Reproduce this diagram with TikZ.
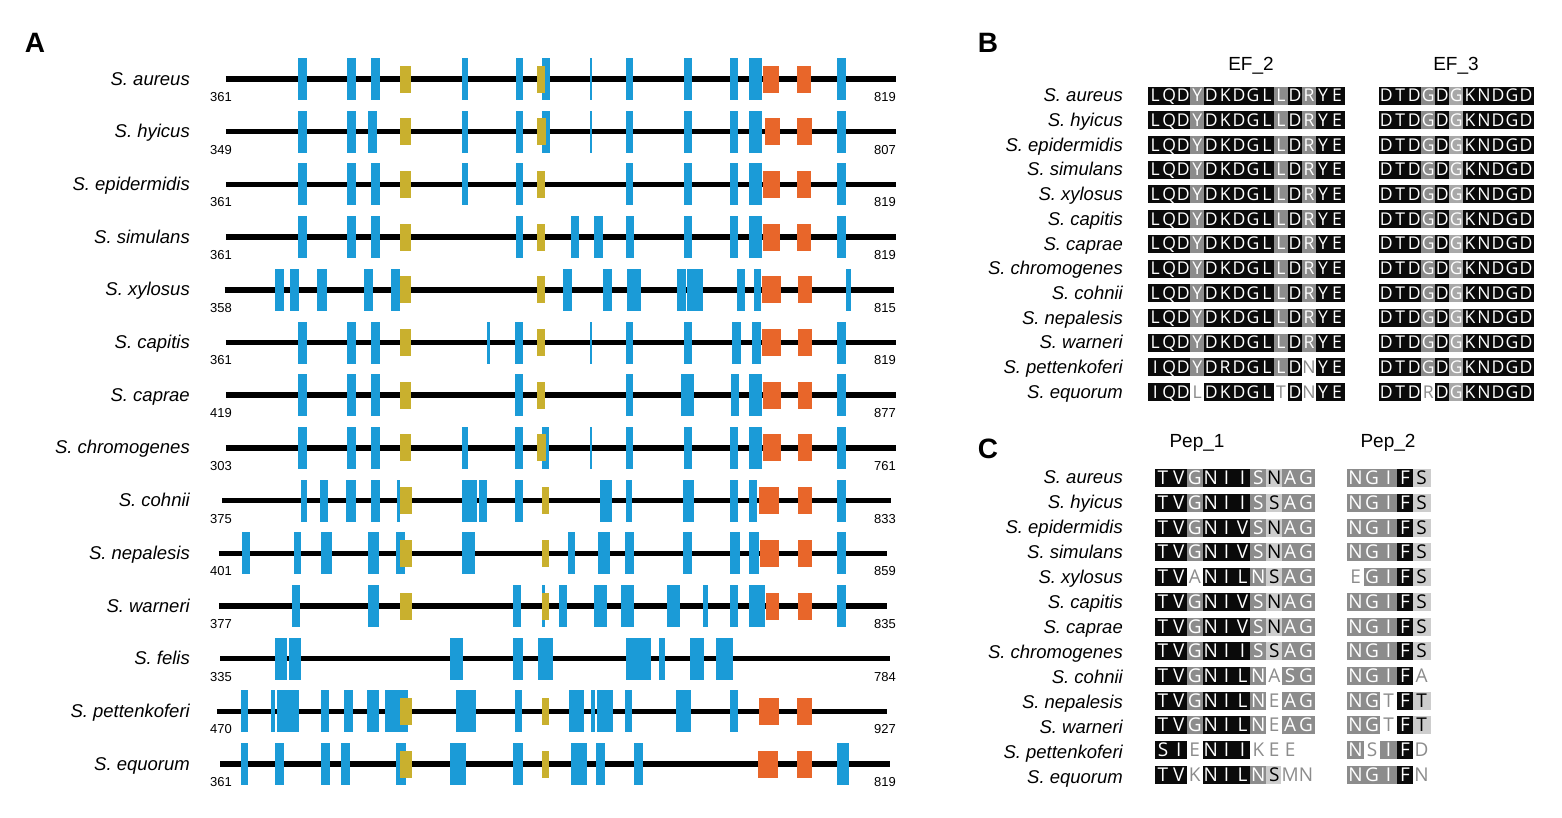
\documentclass[tikz,border=0pt]{standalone}
\usepackage{fontspec}
\setmainfont{Liberation Sans}
\newfontfamily\alnfont{Open Sans}
\usepackage{tikz}

\definecolor{tmblue}{HTML}{1B9BD7}
\definecolor{efyellow}{HTML}{C9B02E}
\definecolor{pporange}{HTML}{E8662A}
\definecolor{blk}{HTML}{0A0A0A}
\definecolor{gry}{HTML}{8C8C8C}
\definecolor{gr2}{HTML}{A8A8A8}
\definecolor{lgt}{HTML}{CDCDCD}
\colorlet{wht}{white}
\colorlet{txblk}{white}
\colorlet{txgry}{white}
\colorlet{txgr2}{white}
\colorlet{txlgt}{black}
\definecolor{txwht}{HTML}{8C8C8C}

% one protein: backbone and domains (x in zoom units)
\newcommand{\protline}[3]{\draw[backbone] (#2,#1) -- (#3,#1);}
\newcommand{\domains}[4]{\foreach \a/\b in {#4} {\fill[#1] (\a,#3-#2) rectangle (\b,#3+#2);}}
% one alignment row: style, name, y, x0, cell width, list
\newcommand{\alnrow}[6]{\foreach \ch/\bg [count=\k] in #6 {\node[#1, minimum width=#5pt, fill=\bg, draw=\bg, text=tx\bg] (#2-\k) at ({#4+#5*(\k-0.5)}, #3) {\ch};}}

\newcommand{\eftwo}{L/blk,Q/blk,D/blk,Y/gry,D/blk,K/blk,D/blk,G/blk,L/blk,L/gry,D/blk,R/gry,Y/blk,E/blk}
\newcommand{\efthree}{D/blk,T/blk,D/blk,G/gry,D/blk,G/gr2,K/blk,N/blk,D/blk,G/blk,D/blk}
\newcommand{\pepNAG}{T/blk,V/blk,G/gry,N/blk,I/blk,I/blk,S/gry,N/lgt,A/gry,G/gry}
\newcommand{\pepSAG}{T/blk,V/blk,G/gry,N/blk,I/blk,I/blk,S/gry,S/lgt,A/gry,G/gry}
\newcommand{\pepVSN}{T/blk,V/blk,G/gry,N/blk,I/blk,V/blk,S/gry,N/lgt,A/gry,G/gry}
\newcommand{\pepNEA}{T/blk,V/blk,G/gry,N/blk,I/blk,L/blk,N/gry,E/wht,A/gry,G/gry}
\newcommand{\pepngifs}{N/gry,G/gry,I/gry,F/blk,S/lgt}
\newcommand{\pepngtft}{N/gry,G/gry,T/wht,F/blk,T/lgt}

\begin{document}
\begin{tikzpicture}[x=1pt, y=-1pt]
\tikzset{backbone/.style={line width=5.5pt, black},
  bluebox/.style={fill=tmblue}, yelbox/.style={fill=efyellow}, orgbox/.style={fill=pporange},
  sp/.style={anchor=base east, inner sep=0pt, font=\fontsize{18.5}{20}\selectfont\itshape},
  num/.style={inner sep=0pt, font=\fontsize{13}{13}\selectfont},
  panel/.style={inner sep=0pt, font=\fontsize{28}{28}\selectfont\bfseries},
  head/.style={inner sep=0pt, font=\fontsize{19}{19}\selectfont},
  cellb/.style={inner sep=0pt, minimum height=17pt, text height=12.6pt, text depth=0pt, line width=0.4pt, font=\alnfont\fontsize{17.6}{18}\selectfont},
  cellc/.style={cellb, text height=13.6pt, font=\alnfont\fontsize{19}{19}\selectfont}};
\useasboundingbox (0,0) rectangle (1562,817);

\node[panel] (labA) at (35,43) {A};
\node[panel] (labB) at (988,43) {B};
\node[panel] (labC) at (988,449) {C};

% panel A
\begin{scope}[xshift=200pt, x=0.4464pt]
% S. aureus
\protline{79}{58}{1560}
\domains{bluebox}{21}{79}{220/240,330/350,383/403,587/601,707/723,765/783,873/879,955/970,1085/1103,1188/1206,1230/1260,1428/1448}
\domains{yelbox}{13.5}{79}{448/472,755/773}
\domains{orgbox}{13.5}{79}{1262/1298,1338/1368}
% S. hyicus
\protline{131.7}{58}{1560}
\domains{bluebox}{21}{131.7}{220/240,330/350,377/397,587/601,707/723,765/783,873/879,955/970,1085/1103,1188/1206,1230/1260,1428/1448}
\domains{yelbox}{13.5}{131.7}{448/472,755/775}
\domains{orgbox}{13.5}{131.7}{1265/1300,1338/1370}
% S. epidermidis
\protline{184.4}{58}{1560}
\domains{bluebox}{21}{184.4}{220/240,330/350,383/403,587/601,707/723,955/970,1085/1103,1188/1206,1230/1260,1428/1448}
\domains{yelbox}{13.5}{184.4}{448/472,755/773}
\domains{orgbox}{13.5}{184.4}{1262/1300,1338/1368}
% S. simulans
\protline{237.1}{58}{1560}
\domains{bluebox}{21}{237.1}{220/240,330/350,383/403,707/723,830/850,883/903,955/972,1085/1103,1188/1206,1230/1260,1428/1448}
\domains{yelbox}{13.5}{237.1}{448/472,755/773}
\domains{orgbox}{13.5}{237.1}{1262/1300,1338/1368}
% S. xylosus
\protline{289.8}{55}{1555}
\domains{bluebox}{21}{289.8}{168/188,202/222,263/285,368/388,428/448,813/833,902/924,957/988,1068/1088,1092/1127,1202/1220,1242/1256,1448/1458}
\domains{yelbox}{13.5}{289.8}{448/472,755/773}
\domains{orgbox}{13.5}{289.8}{1258/1302,1340/1372}
% S. capitis
\protline{342.5}{58}{1560}
\domains{bluebox}{21}{342.5}{220/240,330/350,383/403,643/650,705/723,873/879,955/970,1085/1103,1192/1212,1236/1256,1428/1448}
\domains{yelbox}{13.5}{342.5}{448/472,755/773}
\domains{orgbox}{13.5}{342.5}{1260/1302,1340/1372}
% S. caprae
\protline{395.2}{58}{1560}
\domains{bluebox}{21}{395.2}{220/240,330/350,383/403,705/723,955/970,1078/1106,1190/1208,1230/1260,1428/1448}
\domains{yelbox}{13.5}{395.2}{448/472,755/773}
\domains{orgbox}{13.5}{395.2}{1262/1302,1340/1372}
% S. chromogenes
\protline{447.9}{58}{1560}
\domains{bluebox}{21}{447.9}{220/240,330/350,383/403,587/601,705/723,765/782,873/879,955/970,1085/1103,1188/1206,1230/1260,1428/1448}
\domains{yelbox}{13.5}{447.9}{448/472,755/775}
\domains{orgbox}{13.5}{447.9}{1262/1302,1340/1372}
% S. cohnii
\protline{500.6}{50}{1548}
\domains{bluebox}{21}{500.6}{227/240,268/287,328/350,382/404,441/448,588/620,625/643,705/723,895/922,955/968,1082/1107,1188/1206,1229/1248,1428/1448}
\domains{yelbox}{13.5}{500.6}{448/474,765/782}
\domains{orgbox}{13.5}{500.6}{1252/1297,1340/1372}
% S. nepalesis
\protline{553.3}{42}{1540}
\domains{bluebox}{21}{553.3}{95/112,210/226,270/295,377/400,440/460,588/615,825/840,892/918,953/973,1082/1102,1188/1210,1229/1252,1428/1448}
\domains{yelbox}{13.5}{553.3}{448/474,765/782}
\domains{orgbox}{13.5}{553.3}{1254/1297,1340/1372}
% S. warneri
\protline{606}{42}{1540}
\domains{bluebox}{21}{606}{207/225,377/400,702/718,765/772,805/822,882/912,943/973,1047/1075,1126/1137,1188/1206,1230/1265,1428/1448}
\domains{yelbox}{13.5}{606}{448/474,765/782}
\domains{orgbox}{13.5}{606}{1268/1297,1340/1372}
% S. felis
\protline{658.7}{45}{1545}
\domains{bluebox}{21}{658.7}{168/195,200/227,560/590,702/723,758/790,955/1010,1028/1042,1098/1128,1157/1195}
% S. pettenkoferi
\protline{711.4}{38}{1538}
\domains{bluebox}{21}{711.4}{92/107,160/167,172/222,270/290,322/342,375/400,415/465,573/618,705/721,826/860,877/884,890/925,953/968,1067/1100,1187/1206}
\domains{yelbox}{13.5}{711.4}{448/474,765/782}
\domains{orgbox}{13.5}{711.4}{1252/1297,1338/1372}
% S. equorum
\protline{764.1}{45}{1545}
\domains{bluebox}{21}{764.1}{92/107,168/188,270/292,315/335,440/462,560/595,702/723,832/868,887/908,972/993,1428/1453}
\domains{yelbox}{13.5}{764.1}{448/474,765/782}
\domains{orgbox}{13.5}{764.1}{1250/1295,1337/1370}
\end{scope}

\foreach \s/\l/\r [count=\i from 0] in {aureus/361/819, hyicus/349/807, epidermidis/361/819, simulans/361/819, xylosus/358/815, capitis/361/819, caprae/419/877, chromogenes/303/761, cohnii/375/833, nepalesis/401/859, warneri/377/835, felis/335/784, pettenkoferi/470/927, equorum/361/819} {
  \node[sp] (spA\i) at (190,79+52.7*\i+6) {S. \s};
  \node[num] (startA\i) at (221,79+52.7*\i+18) {\l};
  \node[num] (endA\i) at (885,79+52.7*\i+18) {\r};
}

% panels B and C: species
\foreach \s [count=\i from 0] in {aureus, hyicus, epidermidis, simulans, xylosus, capitis, caprae, chromogenes, cohnii, nepalesis, warneri, pettenkoferi, equorum} {
  \node[sp] (spB\i) at (1123,95.3+24.7*\i+6.5) {S. \s};
  \node[sp] (spC\i) at (1123,477+25*\i+6.5) {S. \s};
}

% panel B
\node[head] (ef2) at (1251,66) {EF\_2};
\node[head] (ef3) at (1456,66) {EF\_3};
\alnrow{cellb}{efa0}{95.3}{1148.3}{13.97}{\eftwo}
\alnrow{cellb}{efa1}{120.0}{1148.3}{13.97}{\eftwo}
\alnrow{cellb}{efa2}{144.7}{1148.3}{13.97}{\eftwo}
\alnrow{cellb}{efa3}{169.4}{1148.3}{13.97}{\eftwo}
\alnrow{cellb}{efa4}{194.1}{1148.3}{13.97}{\eftwo}
\alnrow{cellb}{efa5}{218.8}{1148.3}{13.97}{\eftwo}
\alnrow{cellb}{efa6}{243.5}{1148.3}{13.97}{\eftwo}
\alnrow{cellb}{efa7}{268.2}{1148.3}{13.97}{\eftwo}
\alnrow{cellb}{efa8}{292.9}{1148.3}{13.97}{\eftwo}
\alnrow{cellb}{efa9}{317.6}{1148.3}{13.97}{\eftwo}
\alnrow{cellb}{efa10}{342.3}{1148.3}{13.97}{\eftwo}
\alnrow{cellb}{efa11}{367.0}{1148.3}{13.97}{{I/blk,Q/blk,D/blk,Y/gry,D/blk,R/blk,D/blk,G/blk,L/blk,L/gry,D/blk,N/wht,Y/blk,E/blk}}
\alnrow{cellb}{efa12}{391.7}{1148.3}{13.97}{{I/blk,Q/blk,D/blk,L/wht,D/blk,K/blk,D/blk,G/blk,L/blk,T/wht,D/blk,N/wht,Y/blk,E/blk}}
\alnrow{cellb}{efb0}{95.3}{1379.3}{13.97}{\efthree}
\alnrow{cellb}{efb1}{120.0}{1379.3}{13.97}{\efthree}
\alnrow{cellb}{efb2}{144.7}{1379.3}{13.97}{\efthree}
\alnrow{cellb}{efb3}{169.4}{1379.3}{13.97}{\efthree}
\alnrow{cellb}{efb4}{194.1}{1379.3}{13.97}{\efthree}
\alnrow{cellb}{efb5}{218.8}{1379.3}{13.97}{\efthree}
\alnrow{cellb}{efb6}{243.5}{1379.3}{13.97}{\efthree}
\alnrow{cellb}{efb7}{268.2}{1379.3}{13.97}{\efthree}
\alnrow{cellb}{efb8}{292.9}{1379.3}{13.97}{\efthree}
\alnrow{cellb}{efb9}{317.6}{1379.3}{13.97}{\efthree}
\alnrow{cellb}{efb10}{342.3}{1379.3}{13.97}{\efthree}
\alnrow{cellb}{efb11}{367.0}{1379.3}{13.97}{\efthree}
\alnrow{cellb}{efb12}{391.7}{1379.3}{13.97}{{D/blk,T/blk,D/blk,R/wht,D/blk,G/gr2,K/blk,N/blk,D/blk,G/blk,D/blk}}

% panel C
\node[head] (pep1) at (1197,443) {Pep\_1};
\node[head] (pep2) at (1388,443) {Pep\_2};
\alnrow{cellc}{pa0}{478.0}{1155}{15.9}{\pepNAG}
\alnrow{cellc}{pa1}{502.7}{1155}{15.9}{\pepSAG}
\alnrow{cellc}{pa2}{527.4}{1155}{15.9}{\pepVSN}
\alnrow{cellc}{pa3}{552.1}{1155}{15.9}{\pepVSN}
\alnrow{cellc}{pa4}{576.8}{1155}{15.9}{{T/blk,V/blk,A/wht,N/blk,I/blk,L/blk,N/gry,S/lgt,A/gry,G/gry}}
\alnrow{cellc}{pa5}{601.5}{1155}{15.9}{\pepVSN}
\alnrow{cellc}{pa6}{626.2}{1155}{15.9}{\pepVSN}
\alnrow{cellc}{pa7}{650.9}{1155}{15.9}{\pepSAG}
\alnrow{cellc}{pa8}{675.6}{1155}{15.9}{{T/blk,V/blk,G/gry,N/blk,I/blk,L/blk,N/gry,A/wht,S/gry,G/gry}}
\alnrow{cellc}{pa9}{700.3}{1155}{15.9}{\pepNEA}
\alnrow{cellc}{pa10}{725.0}{1155}{15.9}{\pepNEA}
\alnrow{cellc}{pa11}{749.7}{1155}{15.9}{{S/blk,I/blk,E/wht,N/blk,I/blk,I/blk,K/wht,E/wht,E/wht}}
\alnrow{cellc}{pa12}{774.4}{1155}{15.9}{{T/blk,V/blk,K/wht,N/blk,I/blk,L/blk,N/gry,S/lgt,M/wht,N/wht}}
\alnrow{cellc}{pb0}{478.0}{1347.3}{16.5}{\pepngifs}
\alnrow{cellc}{pb1}{502.7}{1347.3}{16.5}{\pepngifs}
\alnrow{cellc}{pb2}{527.4}{1347.3}{16.5}{\pepngifs}
\alnrow{cellc}{pb3}{552.1}{1347.3}{16.5}{\pepngifs}
\alnrow{cellc}{pb4}{576.8}{1347.3}{16.5}{{E/wht,G/gry,I/gry,F/blk,S/lgt}}
\alnrow{cellc}{pb5}{601.5}{1347.3}{16.5}{\pepngifs}
\alnrow{cellc}{pb6}{626.2}{1347.3}{16.5}{\pepngifs}
\alnrow{cellc}{pb7}{650.9}{1347.3}{16.5}{\pepngifs}
\alnrow{cellc}{pb8}{675.6}{1347.3}{16.5}{{N/gry,G/gry,I/gry,F/blk,A/wht}}
\alnrow{cellc}{pb9}{700.3}{1347.3}{16.5}{\pepngtft}
\alnrow{cellc}{pb10}{725.0}{1347.3}{16.5}{\pepngtft}
\alnrow{cellc}{pb11}{749.7}{1347.3}{16.5}{{N/gry,S/wht,I/gry,F/blk,D/wht}}
\alnrow{cellc}{pb12}{774.4}{1347.3}{16.5}{{N/gry,G/gry,I/gry,F/blk,N/wht}}
\end{tikzpicture}
\end{document}
